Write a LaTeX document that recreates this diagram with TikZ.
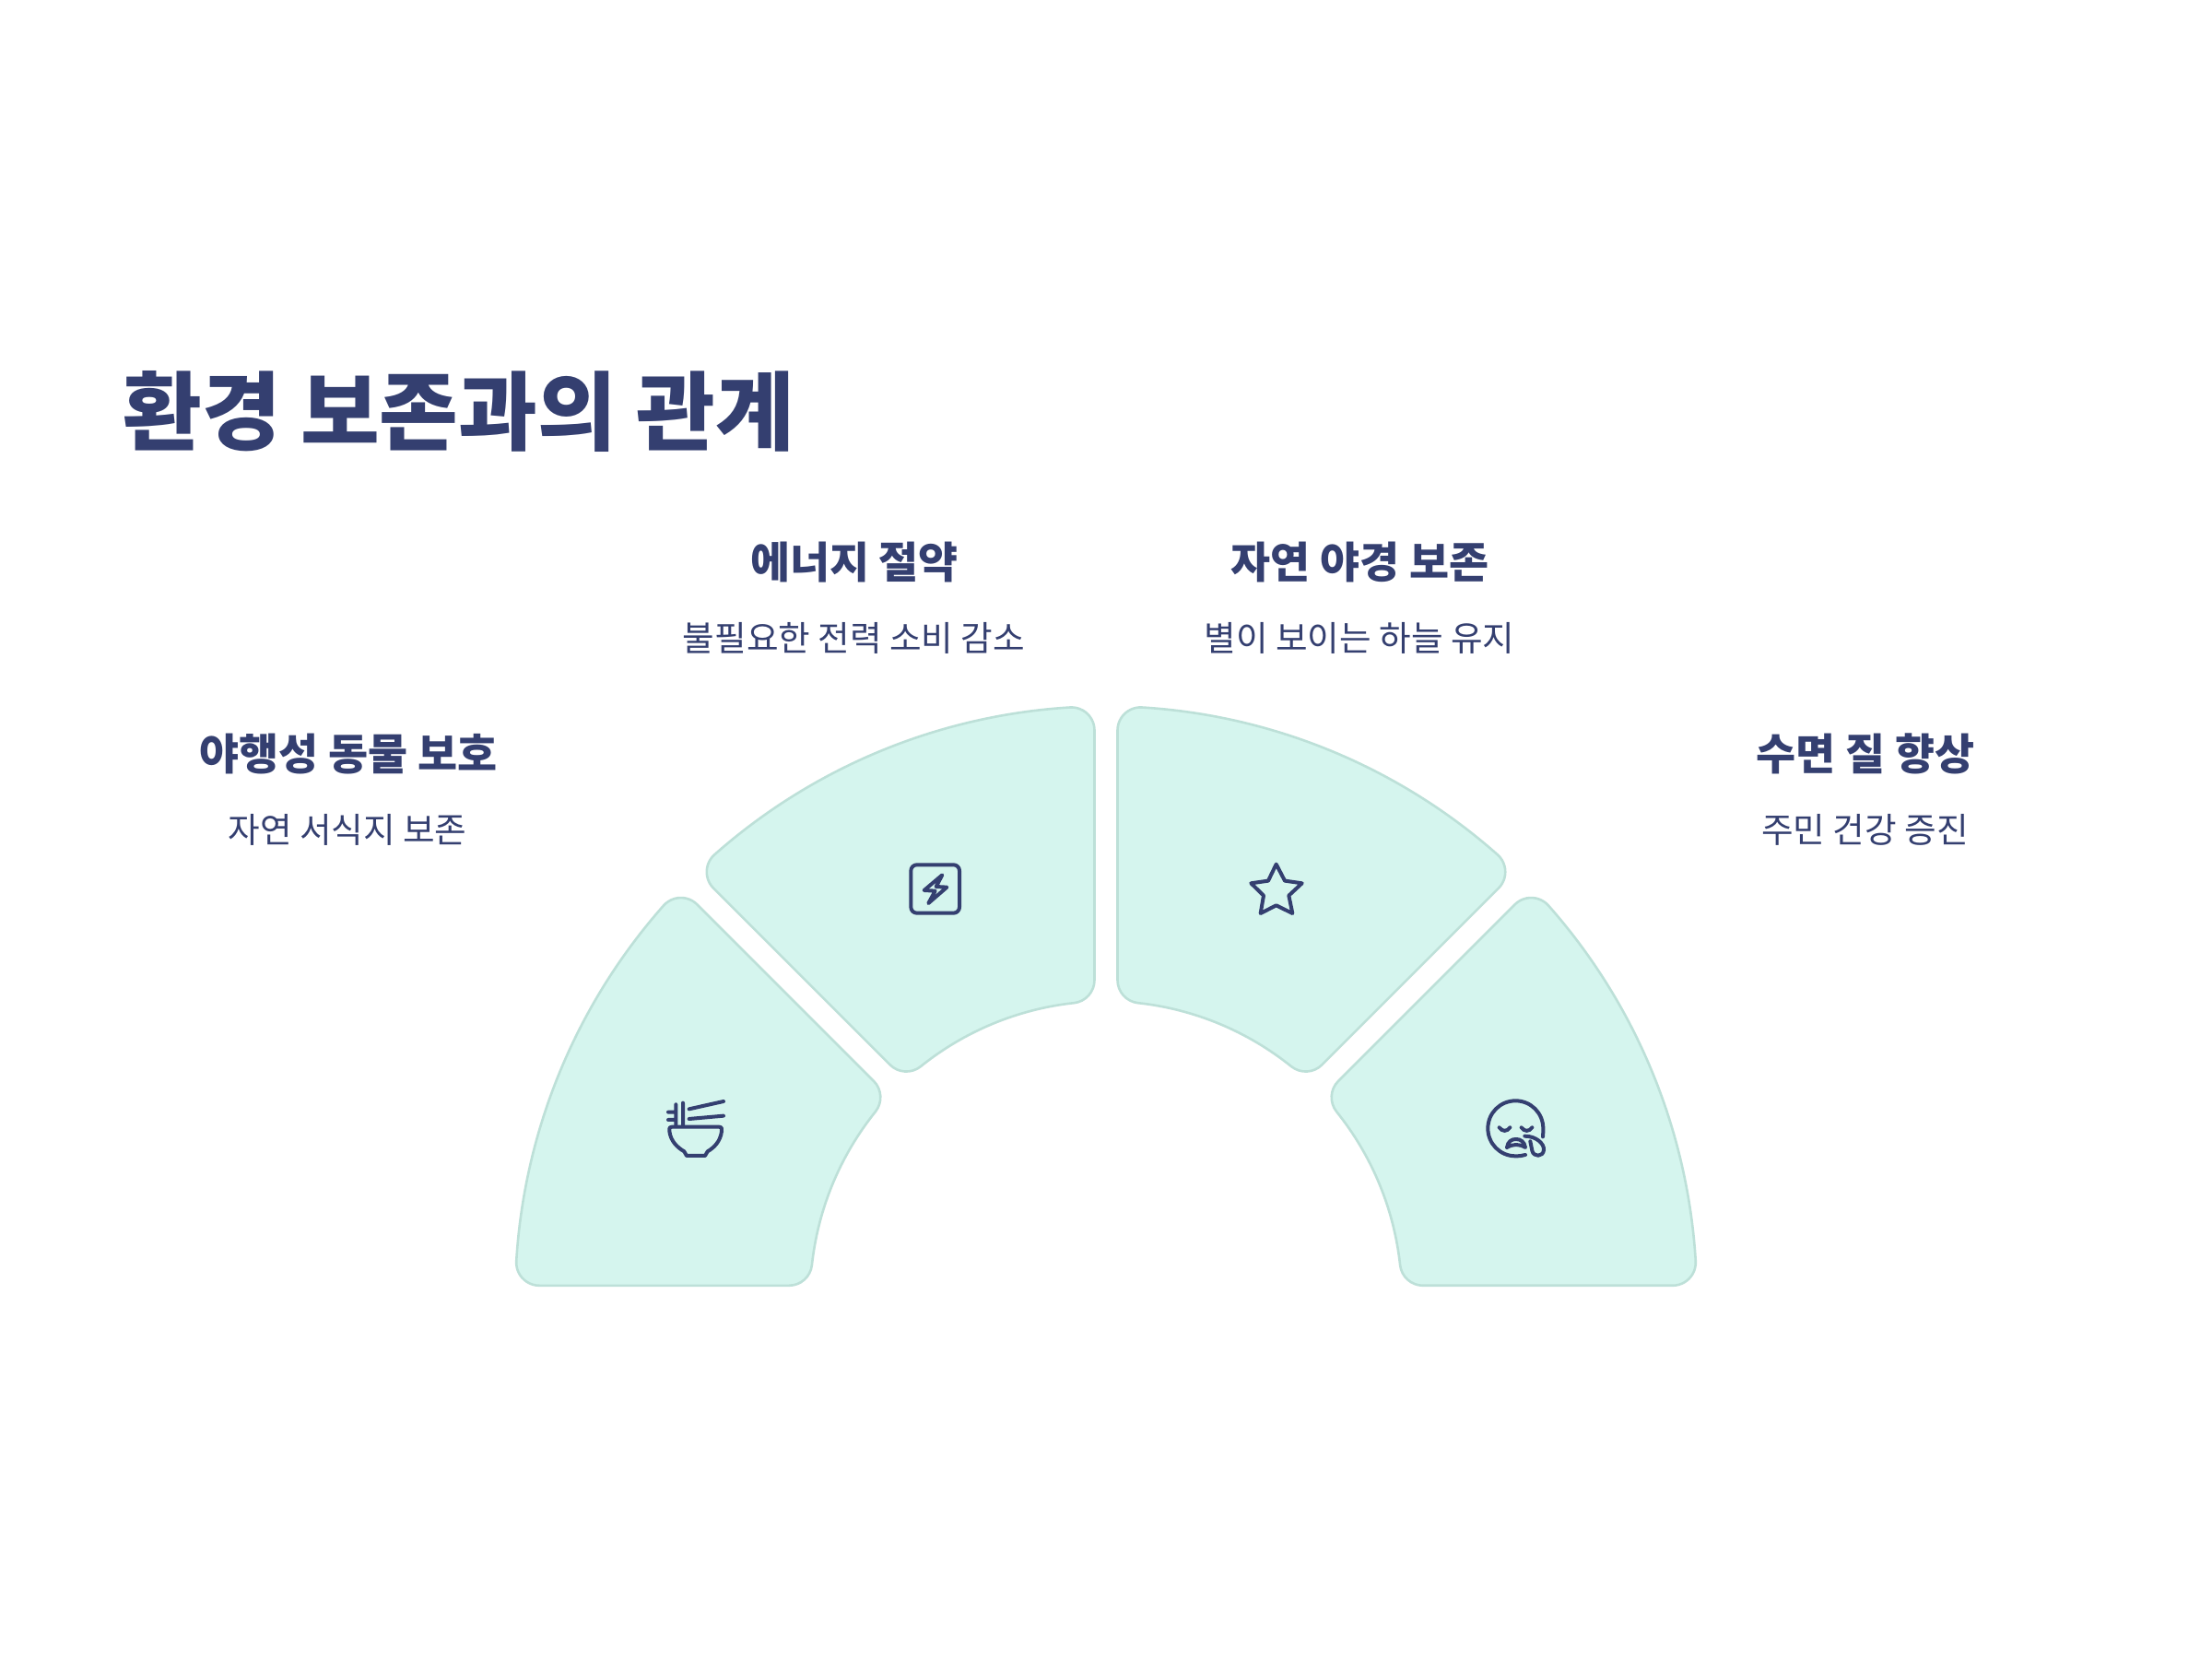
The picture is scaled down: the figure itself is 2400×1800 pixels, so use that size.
\documentclass[tikz,border=0pt]{standalone}
\usepackage{fontspec}
\newfontfamily\kr{Noto Sans CJK KR}
\definecolor{navy}{HTML}{343F70}
\definecolor{segfill}{HTML}{D5F5EE}
\definecolor{segline}{HTML}{BDE0D8}
\pgfmathsetmacro{\Ro}{641}
\pgfmathsetmacro{\Ri}{321}
\pgfmathsetmacro{\Rf}{25}
\pgfmathsetmacro{\Gp}{12.5}
\pgfmathsetmacro{\Ao}{asin((\Gp+\Rf)/(\Ro-\Rf))}
\pgfmathsetmacro{\Ai}{asin((\Gp+\Rf)/(\Ri+\Rf))}
\pgfmathsetmacro{\Xou}{(\Ro-\Rf)*cos(\Ao)}
\pgfmathsetmacro{\Xin}{(\Ri+\Rf)*cos(\Ai)}
\pgfmathsetmacro{\Tx}{(\Ri+\Rf)*cos(45-\Ai)+\Rf*cos(135)}
\pgfmathsetmacro{\Ty}{(\Ri+\Rf)*sin(45-\Ai)+\Rf*sin(135)}
\newcommand{\segment}[1]{%
  \draw[segstyle,shift={(1200,392.7)},rotate=#1]
    (\Xin,\Gp) -- (\Xou,\Gp)
    arc[start angle=-90,end angle=\Ao,radius=\Rf]
    arc[start angle=\Ao,end angle=45-\Ao,radius=\Ro]
    arc[start angle=45-\Ao,end angle=135,radius=\Rf]
    -- (\Tx,\Ty)
    arc[start angle=135,end angle=225-\Ai,radius=\Rf]
    arc[start angle=45-\Ai,end angle=\Ai,radius=\Ri]
    arc[start angle=180+\Ai,end angle=270,radius=\Rf]
    -- cycle;}
\tikzset{
  segstyle/.style={fill=segfill,draw=segline,line width=1.3pt,line join=round},
  ttl/.style={font=\kr\fontsize{46.6pt}{56pt}\selectfont\bfseries,text=navy,anchor=base west,inner sep=0},
  head/.style={font=\kr\fontsize{23.4pt}{28pt}\selectfont\bfseries,text=navy,anchor=base,inner sep=0},
  sub/.style={font=\kr\fontsize{18.8pt}{24pt}\selectfont,text=navy,anchor=base,inner sep=0},
  ico/.style={draw=navy,line width=2pt,line cap=round,line join=round}
}
\begin{document}
\begin{tikzpicture}[x=0.5pt,y=0.5pt]
\useasboundingbox (0,0) rectangle (2400,1800);
\fill[white] (0,0) rectangle (2400,1800);
\node[ttl] (title) at (133,1318) {환경 보존과의 관계};
\node[head] (h1) at (378,964) {야행성 동물 보호};
\node[sub] (s1) at (377,885) {자연 서식지 보존};
\node[head] (h2) at (927,1172) {에너지 절약};
\node[sub] (s2) at (926.5,1093) {불필요한 전력 소비 감소};
\node[head] (h3) at (1475.5,1172) {자연 야경 보존};
\node[sub] (s3) at (1475,1093) {별이 보이는 하늘 유지};
\node[head] (h4) at (2024,964) {수면 질 향상};
\node[sub] (s4) at (2023.5,885) {주민 건강 증진};
\segment{0}\segment{45}\segment{90}\segment{135}
% bowl icon
\begin{scope}[shift={(700,630)},x=0.16667pt,y=-0.16667pt]
\draw[ico] (88,158) -- (240,158) .. controls (250,158) and (250,165) .. (249,172)
  .. controls (245,205) and (225,225) .. (203,238) -- (195,252) -- (135,252) -- (127,238)
  .. controls (105,225) and (83,205) .. (79,172) .. controls (78,165) and (78,158) .. (88,158);
\draw[ico] (100,85) -- (100,155) (123,80) -- (123,155) (75,110) -- (100,110) (75,135) -- (100,135)
  (143,100) -- (255,75) (143,132) -- (255,122);
\end{scope}
% bolt icon
\begin{scope}[shift={(970,880)},x=0.16667pt,y=-0.16667pt]
\draw[ico,rounded corners=3.2pt] (55,55) rectangle (213,212);
\draw[ico] (157,88) -- (98,138) -- (134,140) -- (112,180) -- (172,128) -- (137,126) -- cycle;
\end{scope}
% star icon
\begin{scope}[shift={(1345,875)},x=0.16667pt,y=-0.16667pt]
\draw[ico] (119,38) -- (147,92) -- (203,100) -- (160,140) -- (172,198) -- (119,172) -- (68,198) -- (78,140) -- (37,100) -- (93,92) -- cycle;
\end{scope}
% sleepy face icon
\begin{scope}[shift={(1605,615)},x=0.16667pt,y=-0.16667pt]
\draw[ico] (207,145) .. controls (208,135) and (208,126) .. (208,118)
  .. controls (208,68) and (168,28) .. (118,28)
  .. controls (68,28) and (28,68) .. (28,118)
  .. controls (28,168) and (68,208) .. (118,208)
  .. controls (130,208) and (140,207) .. (150,204);
\draw[ico] (65,115) .. controls (75,129) and (90,129) .. (100,115)
  (137,115) .. controls (147,129) and (162,129) .. (172,115);
\draw[ico] (90,180) .. controls (93,160) and (105,153) .. (120,153)
  .. controls (135,153) and (147,162) .. (150,180) .. controls (130,168) and (110,168) .. (90,180);
\draw[ico] (148,143) .. controls (185,143) and (212,168) .. (210,188)
  .. controls (208,212) and (176,212) .. (172,190) -- (166,160);
\end{scope}
\end{tikzpicture}
\end{document}
